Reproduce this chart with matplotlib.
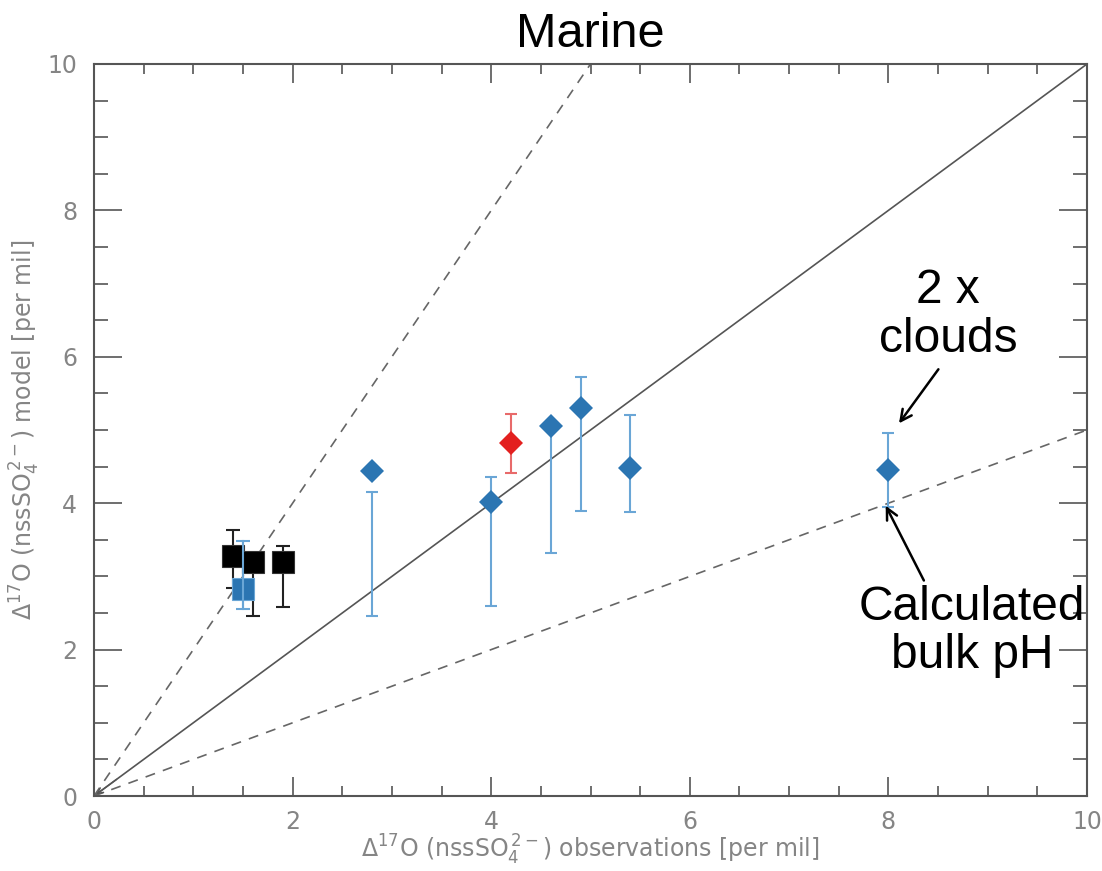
import numpy as np
import matplotlib.pyplot as plt
from matplotlib.ticker import MultipleLocator

# -------------------------
# data
# -------------------------
# black squares
sq_black_x = [1.4, 1.6, 1.9]
sq_black_y = [3.28, 3.20, 3.19]
sq_black_lo = [2.84, 2.46, 2.58]
sq_black_hi = [3.64, 3.32, 3.41]

# blue square
sq_blue_x = [1.5]
sq_blue_y = [2.83]
sq_blue_lo = [2.56]
sq_blue_hi = [3.48]

# blue diamonds
dia_blue_x = [2.8, 4.0, 4.6, 4.9, 5.4, 8.0]
dia_blue_y = [4.44, 4.02, 5.06, 5.30, 4.48, 4.45]
dia_blue_lo = [2.46, 2.60, 3.32, 3.89, 3.88, 3.95]
dia_blue_hi = [4.15, 4.36, 5.06, 5.73, 5.21, 4.96]

# red diamond
dia_red_x = [4.2]
dia_red_y = [4.82]
dia_red_lo = [4.41]
dia_red_hi = [5.22]

# reference lines y = k * x
line_x = [0, 10]
slopes_dashed = [2.0, 0.5]

blue = "#2b75b2"
blue_err = "#6aa6d6"
red = "#e3201f"
axis_grey = "#555555"
text_grey = "#858585"


def err_bars(ax, x, lo, hi, color, lw=1.5, cap=4):
    lo = np.array(lo)
    hi = np.array(hi)
    ax.errorbar(x, (lo + hi) / 2, yerr=(hi - lo) / 2, fmt="none",
                ecolor=color, elinewidth=lw, capsize=cap, capthick=lw, zorder=3)


fig = plt.figure(figsize=(11.02, 8.71), dpi=100)
ax = fig.add_axes([94 / 1102, 75 / 871, 993 / 1102, 732 / 871])

# 1:1 and 2:1 / 1:2 lines
ax.plot(line_x, line_x, color="#555555", lw=1.2, zorder=1)
for k in slopes_dashed:
    ax.plot(line_x, [k * v for v in line_x], color="#666666", lw=1.2,
            linestyle=(0, (6, 5)), zorder=1)
ax.annotate("", xy=(0, 0), xytext=(0.25, 0.25),
            arrowprops=dict(arrowstyle="->", color="#555555", lw=1.0))

# black squares
err_bars(ax, sq_black_x, sq_black_lo, sq_black_hi, "#222222", cap=5)
ax.plot(sq_black_x, sq_black_y, "s", color="black", ms=15.5, mec="#333333",
        mew=0.8, zorder=4)

# blue square
err_bars(ax, sq_blue_x, sq_blue_lo, sq_blue_hi, blue_err, cap=5)
ax.plot(sq_blue_x, sq_blue_y, "s", color=blue, ms=15.5, mec=blue_err,
        mew=0.8, zorder=4)
ax.plot(sq_blue_x * 2, [sq_blue_lo[0], sq_blue_hi[0]], color=blue_err,
        lw=1.5, zorder=5)

# blue diamonds
err_bars(ax, dia_blue_x, dia_blue_lo, dia_blue_hi, blue_err)
ax.plot(dia_blue_x, dia_blue_y, "D", color=blue, ms=12, mew=0, zorder=4)

# red diamond
err_bars(ax, dia_red_x, dia_red_lo, dia_red_hi, "#e86a6a")
ax.plot(dia_red_x, dia_red_y, "D", color=red, ms=12, mew=0, zorder=4)

# annotations
ax.text(8.60, 6.57, "2 x\nclouds", ha="center", va="center",
        fontsize=34.5, family="Liberation Sans", linespacing=1.1)
ax.annotate("", xy=(8.09, 5.06), xytext=(8.52, 5.86),
            arrowprops=dict(arrowstyle="->,head_length=0.8,head_width=0.4",
                            color="black", lw=1.8))
ax.text(8.84, 2.25, "Calculated\nbulk pH", ha="center", va="center",
        fontsize=34.5, family="Liberation Sans", linespacing=1.1)
ax.annotate("", xy=(7.96, 4.0), xytext=(8.37, 2.91),
            arrowprops=dict(arrowstyle="->,head_length=0.8,head_width=0.4",
                            color="black", lw=1.8))

# axes styling
ax.set_xlim(0, 10)
ax.set_ylim(0, 10)
ax.xaxis.set_major_locator(MultipleLocator(2))
ax.yaxis.set_major_locator(MultipleLocator(2))
ax.xaxis.set_minor_locator(MultipleLocator(0.5))
ax.yaxis.set_minor_locator(MultipleLocator(0.5))
ax.tick_params(which="both", direction="in", top=True, right=True,
               color=axis_grey, labelcolor=text_grey, labelsize=17, pad=12)
ax.tick_params(axis="x", pad=10)
ax.tick_params(axis="y", which="major", length=20, width=1.2)
ax.tick_params(axis="y", which="minor", length=10, width=1.2)
ax.tick_params(axis="x", which="major", length=14, width=1.2)
ax.tick_params(axis="x", which="minor", length=7, width=1.2)
for s in ax.spines.values():
    s.set_color(axis_grey)
    s.set_linewidth(1.5)

ax.set_xlabel(r"$\Delta^{17}$O (nssSO$_4^{\,2-}$) observations [per mil]",
              fontsize=17, color=text_grey, labelpad=-1)
ax.set_ylabel(r"$\Delta^{17}$O (nssSO$_4^{\,2-}$) model [per mil]",
              fontsize=17, color=text_grey, labelpad=4)
ax.set_title("Marine", fontsize=35, family="Liberation Sans", pad=12)

fig.savefig("out.png", dpi=100)
